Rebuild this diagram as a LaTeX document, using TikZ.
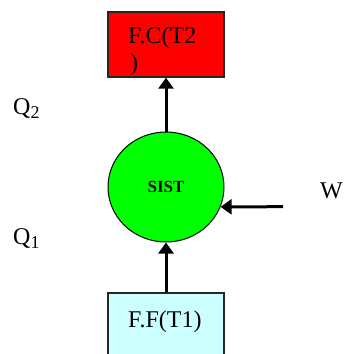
\documentclass[tikz,border=0pt]{standalone}
\usepackage{fontspec}
\setmainfont{Liberation Serif}
\usetikzlibrary{arrows.meta,shapes.geometric}
\definecolor{boxred}{HTML}{FF0000}
\definecolor{boxcyan}{HTML}{CCFFFF}
\definecolor{sistgreen}{HTML}{00FF00}
\begin{document}
\begin{tikzpicture}[x=1pt,y=-1pt,
  box/.style={draw=black!85,line width=1.4pt,rectangle,inner sep=0pt},
  txt/.style={inner sep=0pt,font=\fontsize{24}{27}\selectfont},
  arr/.style={line width=3pt,-{Triangle[width=15pt,length=11pt]}}]
\useasboundingbox (0,0) rectangle (348,354);
\clip (0,0) rectangle (348,354);
\node[box,fill=boxred,minimum width=116pt,minimum height=65pt] (fc) at (166,44.5) {};
\node[box,fill=boxcyan,minimum width=116pt,minimum height=90pt] (ff) at (166,338) {};
\node[ellipse,draw=black,line width=1pt,fill=sistgreen,minimum width=116pt,minimum height=110pt,inner sep=0pt] (sist) at (166,187) {};
\node[inner sep=0pt,font=\fontsize{17}{17}\selectfont\bfseries] (sisttxt) at (sist.center) {SIST};
\node[txt,anchor=base west] (fct1) at (128,43) {F.C(T2};
\node[txt,anchor=base west] (fct2) at (130,70) {)};
\node[txt,anchor=base west] (fft) at (128,327) {F.F(T1)};
\node[txt,anchor=base west] (q2) at (13,114) {Q{\fontsize{18}{18}\selectfont\raisebox{-4pt}{2}}};
\node[txt,anchor=base west] (q1) at (13,244) {Q{\fontsize{18}{18}\selectfont\raisebox{-4pt}{1}}};
\node[txt,anchor=base west] (w) at (320,198) {W};
\coordinate (wstart) at (283,206.7);
\draw[arr] (sist.north) -- (fc.south);
\draw[arr] (ff.north) -- (sist.south);
\draw[arr] (wstart) -- (sist.-20);
\end{tikzpicture}
\end{document}
